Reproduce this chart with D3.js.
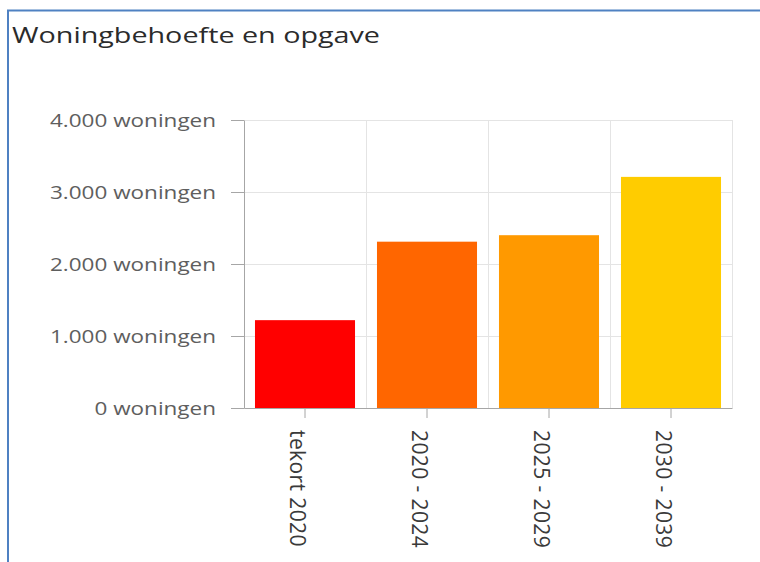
<!DOCTYPE html>
<html>
<head>
<meta charset="utf-8">
<script src="https://cdn.jsdelivr.net/npm/d3@7"></script>
<style>
  body { margin: 0; background: #fff; }
  svg { display: block; font-family: "Open Sans", sans-serif; }
  .axis path, .axis line { stroke: #a6a6a6; }
  .grid line { stroke: #e4e4e4; }
</style>
</head>
<body>
<div id="chart"></div>
<script>
// chart data
const categories = ["tekort 2020", "2020 - 2024", "2025 - 2029", "2030 - 2039"];
const values = [1220, 2310, 2400, 3210];
const colours = ["#ff0000", "#ff6600", "#ff9900", "#ffcc00"];
const yTicks = [0, 1000, 2000, 3000, 4000];
const unit = " woningen";

const W = 760, H = 562;
const margin = { top: 120, right: 28, bottom: 154, left: 244 },
  width = W - margin.left - margin.right,
  height = H - margin.top - margin.bottom;

const svg = d3.select("#chart")
  .append("svg")
    .attr("width", W)
    .attr("height", H);

// frame lines (top + left)
svg.append("line")
  .attr("x1", 7).attr("x2", W).attr("y1", 10.5).attr("y2", 10.5)
  .attr("stroke", "#4f81c2").attr("stroke-width", 2);
svg.append("line")
  .attr("x1", 8).attr("x2", 8).attr("y1", 10).attr("y2", H)
  .attr("stroke", "#4f81c2").attr("stroke-width", 2);

// title
svg.append("text")
  .attr("x", 12)
  .attr("y", 43)
  .attr("fill", "#2b2b2b")
  .style("font-size", "22px")
  .style("font-weight", 500)
  .attr("textLength", 368)
  .attr("lengthAdjust", "spacingAndGlyphs")
  .text("Woningbehoefte en opgave");

const g = svg.append("g")
  .attr("transform", `translate(${margin.left},${margin.top})`);

// scales
const nl = d3.formatLocale({ decimal: ",", thousands: ".", grouping: [3], currency: ["€", ""] });
const fmt = nl.format(",d");

let xGrid = d3.scaleBand()
  .domain(categories)
  .range([0, width])
  .padding(0);

let x = d3.scaleBand()
  .domain(categories)
  .range([0, width])
  .paddingInner(0.18)
  .paddingOuter(0.09);

let y = d3.scaleLinear()
  .domain([0, 4000])
  .range([height, 0]);

// grid
const grid = g.append("g").attr("class", "grid");
grid.selectAll(".hline")
  .data(yTicks)
  .enter().append("line")
  .attr("x1", 0).attr("x2", width)
  .attr("y1", d => y(d) + 0.5).attr("y2", d => y(d) + 0.5);
grid.selectAll(".vline")
  .data(categories)
  .enter().append("line")
  .attr("x1", d => xGrid(d) + xGrid.bandwidth() + 0.5)
  .attr("x2", d => xGrid(d) + xGrid.bandwidth() + 0.5)
  .attr("y1", 0).attr("y2", height);

// bars
g.selectAll(".bar")
  .data(values)
  .enter().append("rect")
  .attr("class", "bar")
  .attr("x", (d, i) => x(categories[i]))
  .attr("width", x.bandwidth())
  .attr("y", d => y(d))
  .attr("height", d => height - y(d))
  .attr("fill", (d, i) => colours[i]);

// y axis
const yAxis = g.append("g")
  .attr("class", "axis y")
  .call(d3.axisLeft(y)
    .tickValues(yTicks)
    .tickSize(13)
    .tickPadding(15)
    .tickSizeOuter(0)
    .tickFormat(d => fmt(d) + unit));
let yText = yAxis.selectAll("text")
  .attr("fill", "#5e5e5e")
  .attr("dy", "0.34em")
  .style("font-family", "'Open Sans', sans-serif")
  .style("font-size", "18px");
// labels in the picture are drawn wider than the font, stretch them a bit
let stretch = 166 / d3.max(yText.nodes(), n => n.getComputedTextLength());
yText.each(function () {
  d3.select(this)
    .attr("textLength", this.getComputedTextLength() * stretch)
    .attr("lengthAdjust", "spacingAndGlyphs");
});

// x axis
const xAxis = g.append("g")
  .attr("class", "axis x")
  .attr("transform", `translate(0,${height})`)
  .call(d3.axisBottom(xGrid).tickSize(10).tickSizeOuter(0));
xAxis.selectAll("text")
  .attr("x", 0)
  .attr("y", 0)
  .attr("dy", "0.72em")
  .attr("transform", "translate(0,22) rotate(90)")
  .attr("text-anchor", "start")
  .attr("fill", "#3a3a3a")
  .style("font-family", "'Open Sans', sans-serif")
  .style("font-size", "21px")
  .style("letter-spacing", "0.4px");
</script>
</body>
</html>
